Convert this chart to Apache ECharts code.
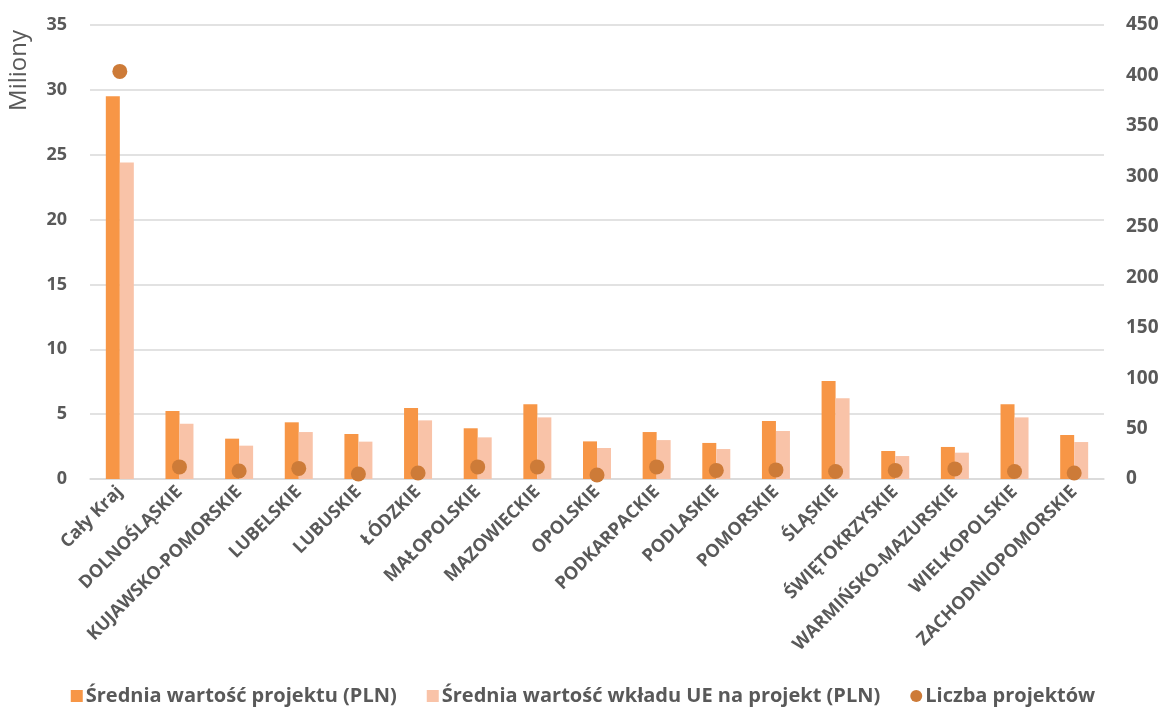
<!DOCTYPE html>
<html>
<head>
<meta charset="utf-8">
<script src="https://cdn.jsdelivr.net/npm/echarts@6/dist/echarts.min.js"></script>
<style>
html,body{margin:0;padding:0;background:#fff;}
#chart{width:1166px;height:711px;}
</style>
</head>
<body>
<div id="chart"></div>
<script>
const categories = ['Cały Kraj','DOLNOŚLĄSKIE','KUJAWSKO-POMORSKIE','LUBELSKIE','LUBUSKIE','ŁÓDZKIE','MAŁOPOLSKIE','MAZOWIECKIE','OPOLSKIE','PODKARPACKIE','PODLASKIE','POMORSKIE','ŚLĄSKIE','ŚWIĘTOKRZYSKIE','WARMIŃSKO-MAZURSKIE','WIELKOPOLSKIE','ZACHODNIOPOMORSKIE'];
const sredniaWartosc = [29.5, 5.24, 3.11, 4.37, 3.47, 5.47, 3.91, 5.76, 2.9, 3.62, 2.78, 4.47, 7.56, 2.16, 2.47, 5.76, 3.39];
const sredniaWkladUE = [24.4, 4.26, 2.57, 3.62, 2.88, 4.52, 3.21, 4.75, 2.39, 3.0, 2.31, 3.70, 6.22, 1.77, 2.03, 4.75, 2.85];
const liczbaProjektow = [404, 12, 8, 10.5, 5, 6, 12, 12, 4, 12, 8.5, 9, 7.5, 8.5, 10, 7.5, 6];
const seriesNames = ['Średnia wartość projektu (PLN)','Średnia wartość wkładu UE na projekt (PLN)','Liczba projektów'];

const FONT = '"Open Sans", sans-serif';
const GREY = '#595959';
const chart = echarts.init(document.getElementById('chart'), null, {renderer:'canvas'});
chart.setOption({
  animation:false,
  backgroundColor:'#fff',
  textStyle:{fontFamily:FONT},
  grid:{left:90,right:62,top:25,bottom:232,containLabel:false},
  legend:{
    bottom:0,left:'center',
    itemGap:30,itemWidth:12,itemHeight:12,
    textStyle:{fontFamily:FONT,fontSize:20,fontWeight:'bold',color:GREY,padding:[0,0,0,-2]},
    data:[
      {name:seriesNames[0],icon:'rect'},
      {name:seriesNames[1],icon:'rect'},
      {name:seriesNames[2],icon:'circle'}
    ]
  },
  graphic:[{
    type:'text',left:7,top:30,rotation:Math.PI/2,
    style:{text:'Miliony',font:'24px '+FONT,fill:GREY}
  }],
  xAxis:{
    type:'category',data:categories,
    axisLine:{show:true,lineStyle:{color:'#D9D9D9',width:1.5}},
    axisTick:{show:false},
    axisLabel:{rotate:45,interval:0,margin:10,fontFamily:FONT,fontSize:18,fontWeight:'bold',color:GREY}
  },
  yAxis:[{
    type:'value',min:0,max:35,interval:5,
    axisLine:{show:false},axisTick:{show:false},
    splitLine:{lineStyle:{color:'#D9D9D9',width:1.5}},
    axisLabel:{margin:23,fontFamily:FONT,fontSize:18,fontWeight:'bold',color:GREY}
  },{
    type:'value',min:0,max:450,interval:50,
    axisLine:{show:false},axisTick:{show:false},
    splitLine:{show:false},
    axisLabel:{margin:22,fontFamily:FONT,fontSize:19,fontWeight:'bold',color:GREY}
  }],
  series:[{
    name:seriesNames[0],type:'bar',data:sredniaWartosc,barWidth:14,barGap:'0%',
    itemStyle:{color:'#F79646'}
  },{
    name:seriesNames[1],type:'bar',data:sredniaWkladUE,barWidth:14,barGap:'0%',
    itemStyle:{color:'#F9C3A8'}
  },{
    name:seriesNames[2],type:'scatter',yAxisIndex:1,data:liczbaProjektow,symbolSize:15,z:5,
    itemStyle:{color:'#CD7B38',opacity:1}
  }]
});
</script>
</body>
</html>
